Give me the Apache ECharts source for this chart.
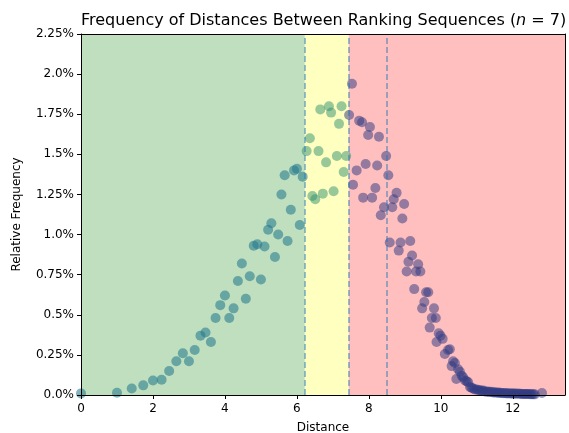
<!DOCTYPE html>
<html>
<head>
<meta charset="utf-8">
<title>Frequency of Distances Between Ranking Sequences</title>
<script src="https://cdn.jsdelivr.net/npm/echarts@6/dist/echarts.min.js"></script>
<style>
  html, body { margin: 0; padding: 0; background: #fff; }
  #chart { width: 569px; height: 433px; }
</style>
</head>
<body>
<div id="chart"></div>
<script>
// distance vs relative frequency (in %), one pair of arrays per zone
const greenDist = [0, 1.0, 1.41, 1.73, 2.0, 2.24, 2.45, 2.65, 2.83, 3.0, 3.16, 3.32, 3.46, 3.61, 3.74, 3.87,
  4.0, 4.12, 4.24, 4.36, 4.47, 4.58, 4.69, 4.8, 4.9, 5.0, 5.1, 5.2, 5.29, 5.39, 5.48, 5.57, 5.66, 5.74,
  5.83, 5.92, 6.0, 6.08, 6.16];
const greenFreq = [0.01, 0.014, 0.04, 0.06, 0.09, 0.095, 0.15, 0.21, 0.26, 0.21, 0.28, 0.37, 0.39, 0.33, 0.48, 0.56,
  0.62, 0.48, 0.54, 0.71, 0.82, 0.6, 0.74, 0.93, 0.94, 0.72, 0.925, 1.03, 1.07, 0.86, 1.0, 1.25, 1.37, 0.96,
  1.155, 1.4, 1.41, 1.06, 1.36];

const yellowDist = [6.27, 6.36, 6.43, 6.51, 6.6, 6.65, 6.72, 6.81, 6.89, 6.95, 7.02, 7.11, 7.17, 7.24, 7.3, 7.37];
const yellowFreq = [1.52, 1.6, 1.24, 1.22, 1.52, 1.78, 1.255, 1.45, 1.8, 1.76, 1.27, 1.49, 1.69, 1.8, 1.39, 1.49];

const redDist = [7.45, 7.53, 7.56, 7.66, 7.73, 7.81, 7.84, 7.91, 7.98, 8.03, 8.09, 8.18, 8.23, 8.28, 8.33, 8.42,
  8.48, 8.54, 8.58, 8.65, 8.69, 8.77, 8.83, 8.88, 8.93, 8.98, 9.05, 9.1, 9.15, 9.2, 9.26, 9.31, 9.37, 9.43,
  9.48, 9.54, 9.59, 9.65, 9.69, 9.75, 9.81, 9.86, 9.88, 9.94, 9.99, 10.05, 10.11, 10.2, 10.25, 10.3, 10.34,
  10.39, 10.43, 10.48, 10.53, 10.58, 10.62, 10.67, 10.72, 10.76, 10.81, 10.85, 10.9, 10.94,
  11.0, 11.05, 11.09, 11.14, 11.18, 11.22, 11.27, 11.31, 11.36, 11.4, 11.45, 11.49, 11.53, 11.58, 11.62,
  11.66, 11.7, 11.75, 11.79, 11.83, 11.87, 11.92, 11.96, 12.0, 12.04, 12.08, 12.12, 12.17, 12.21, 12.25,
  12.29, 12.33, 12.37, 12.41, 12.45, 12.49, 12.53, 12.57, 12.61, 12.81];
const redFreq = [1.745, 1.94, 1.31, 1.4, 1.71, 1.7, 1.23, 1.44, 1.62, 1.67, 1.23, 1.29, 1.43, 1.61, 1.12, 1.17,
  1.49, 1.37, 0.95, 1.17, 1.22, 1.26, 0.9, 0.95, 1.1, 1.19, 0.77, 0.83, 0.96, 0.87, 0.66, 0.77, 0.815, 0.77,
  0.54, 0.58, 0.64, 0.64, 0.42, 0.48, 0.54, 0.48, 0.33, 0.385, 0.37, 0.35, 0.255, 0.28, 0.285, 0.18, 0.21,
  0.2, 0.1, 0.16, 0.145, 0.12, 0.11, 0.09, 0.085, 0.08, 0.05, 0.045, 0.04, 0.035,
  0.035, 0.03, 0.03, 0.027, 0.028, 0.022, 0.02, 0.022, 0.018, 0.02, 0.016, 0.017, 0.015, 0.014, 0.015,
  0.012, 0.013, 0.011, 0.012, 0.01, 0.011, 0.01, 0.01, 0.009, 0.009, 0.008, 0.009, 0.008, 0.008, 0.007,
  0.007, 0.007, 0.006, 0.006, 0.006, 0.005, 0.005, 0.005, 0.004, 0.012];

// zone boundaries and dashed reference lines
const zoneEdges = [0, 6.22, 7.44, 13.45];
const refLines = [6.22, 7.44, 8.49];

const yTickLabels = ['0.0%', '0.25%', '0.5%', '0.75%', '1.0%', '1.25%', '1.5%', '1.75%', '2.0%', '2.25%'];

const font = 'DejaVu Sans';
const pairs = (xs, ys) => xs.map((x, i) => [x, ys[i]]);

// plain frame line for the top and right sides
const frameAxis = pos => ({
  type: 'value', min: 0, max: pos === 'top' ? 13.45 : 2.25, position: pos,
  axisLine: { show: true, onZero: false, lineStyle: { color: '#000', width: 1 } },
  axisTick: { show: false }, axisLabel: { show: false }, splitLine: { show: false },
  z: 10
});

const chart = echarts.init(document.getElementById('chart'), null, { renderer: 'canvas' });
chart.setOption({
  animation: false,
  textStyle: { fontFamily: font },
  title: {
    text: 'Frequency of Distances Between Ranking Sequences ({i|n} = 7)',
    left: 76,
    top: 8,
    textStyle: {
      fontFamily: font, fontSize: 16, fontWeight: 'normal', color: '#000',
      rich: { i: { fontFamily: font, fontSize: 16, fontStyle: 'italic', color: '#000' } }
    }
  },
  grid: { left: 81, right: 4, top: 34, bottom: 38, containLabel: false, outerBoundsMode: 'none' },
  xAxis: [{
    type: 'value', min: 0, max: 13.45, interval: 2,
    name: 'Distance', nameLocation: 'middle', nameGap: 27,
    nameTextStyle: { fontFamily: font, fontSize: 12, color: '#000' },
    axisLine: { show: true, onZero: false, lineStyle: { color: '#000', width: 1 } },
    axisTick: { show: true, inside: false, length: 4, lineStyle: { color: '#000' } },
    axisLabel: { fontFamily: font, fontSize: 12, color: '#000', margin: 8, showMaxLabel: false },
    splitLine: { show: false },
    z: 10
  }, frameAxis('top')],
  yAxis: [{
    type: 'value', min: 0, max: 2.25, interval: 0.25,
    name: 'Relative Frequency', nameLocation: 'middle', nameGap: 58,
    nameTextStyle: { fontFamily: font, fontSize: 12, color: '#000' },
    axisLine: { show: true, onZero: false, lineStyle: { color: '#000', width: 1 } },
    axisTick: { show: true, inside: false, length: 4, lineStyle: { color: '#000' } },
    axisLabel: {
      fontFamily: font, fontSize: 12, color: '#000', margin: 7,
      formatter: v => yTickLabels[Math.round(v / 0.25)]
    },
    splitLine: { show: false },
    z: 10
  }, frameAxis('right')],
  series: [{
    name: 'zones',
    type: 'scatter',
    data: [],
    silent: true,
    markArea: {
      silent: true,
      data: [
        [{ xAxis: zoneEdges[0], itemStyle: { color: 'rgb(191,223,191)' } }, { xAxis: zoneEdges[1] }],
        [{ xAxis: zoneEdges[1], itemStyle: { color: 'rgb(255,255,191)' } }, { xAxis: zoneEdges[2] }],
        [{ xAxis: zoneEdges[2], itemStyle: { color: 'rgb(255,191,191)' } }, { xAxis: zoneEdges[3] }]
      ]
    },
    markLine: {
      silent: true,
      symbol: 'none',
      label: { show: false },
      lineStyle: { color: 'rgba(31,119,180,0.6)', type: [6, 3], width: 1.5 },
      data: refLines.map(x => ({ xAxis: x }))
    },
    z: 1
  }, {
    name: 'below',
    type: 'scatter',
    symbolSize: 10,
    itemStyle: { color: 'rgba(33,120,140,0.7)' },
    data: pairs(greenDist, greenFreq),
    z: 3
  }, {
    name: 'middle',
    type: 'scatter',
    symbolSize: 10,
    itemStyle: { color: 'rgba(40,140,110,0.6)' },
    data: pairs(yellowDist, yellowFreq),
    z: 3
  }, {
    name: 'above',
    type: 'scatter',
    symbolSize: 10,
    itemStyle: { color: 'rgba(50,60,130,0.65)' },
    data: pairs(redDist, redFreq),
    z: 3
  }]
});
</script>
</body>
</html>
